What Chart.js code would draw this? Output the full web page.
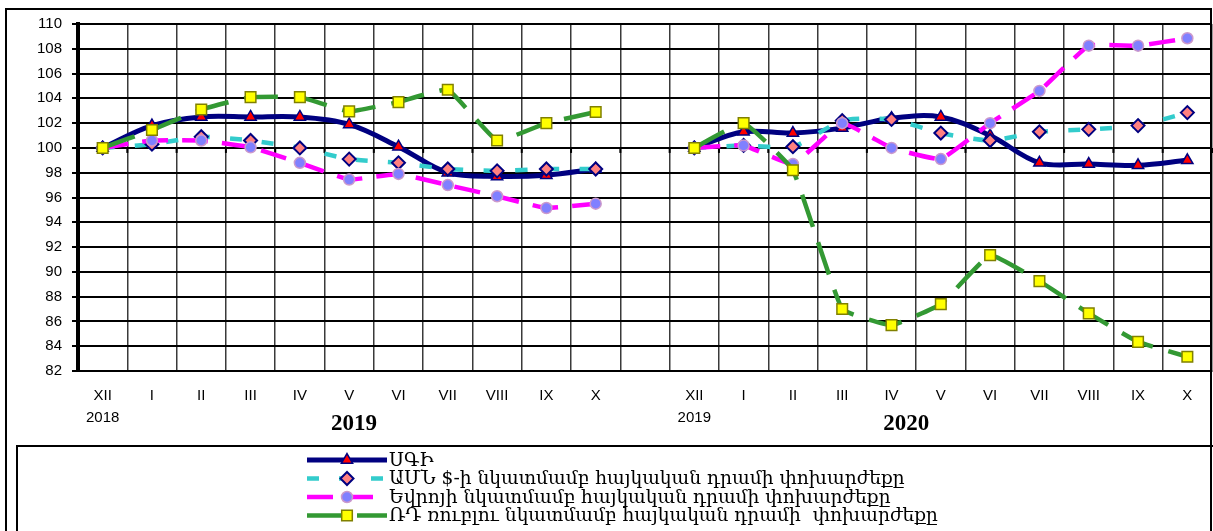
<!DOCTYPE html>
<html><head><meta charset="utf-8">
<script src="https://cdn.jsdelivr.net/npm/chart.js@4"></script>
<style>html,body{margin:0;padding:0;background:#fff;overflow:hidden}#wrap{width:1213px;height:531px;position:relative}</style>
</head><body><div id="wrap"><canvas id="c" width="1213" height="531"></canvas></div>
<script>
// ---- data ----
const months = ['XII','I','II','III','IV','V','VI','VII','VIII','IX','X'];
const baseYears = ['2018','2019'];
const periodYears = ['2019','2020'];
const yTicks = [82,84,86,88,90,92,94,96,98,100,102,104,106,108,110];
const seriesNames = [
  'ՍԳԻ',
  'ԱՄՆ $-ի նկատմամբ հայկական դրամի փոխարժեքը',
  'Եվրոյի նկատմամբ հայկական դրամի փոխարժեքը',
  'ՌԴ ռուբլու նկատմամբ հայկական դրամի  փոխարժեքը'
];
const sgi = [100,101.8,102.5,102.5,102.5,101.9,100.1,98.0,97.7,97.8,98.3, null, 100,101.3,101.2,101.6,102.4,102.5,101.0,98.8,98.7,98.6,99.0];
const usd = [100,100.3,100.9,100.6,100.0,99.1,98.8,98.3,98.15,98.3,98.3, null, 100,100.2,100.1,102.2,102.3,101.2,100.6,101.3,101.5,101.8,102.85];
const eur = [100,100.6,100.6,100.05,98.8,97.45,97.9,97.0,96.1,95.15,95.5, null, 100,100.2,98.7,102.0,100.0,99.1,102.0,104.6,108.25,108.25,108.85];
const rub = [100,101.45,103.1,104.1,104.1,102.95,103.7,104.7,100.6,102.0,102.9, null, 100,102.0,98.2,87.0,85.7,87.4,91.35,89.25,86.65,84.35,83.15];

const categories = [[months[0], baseYears[0]], ...months.slice(1), '', [months[0], baseYears[1]], ...months.slice(1)];

const datasets = [
  {label: seriesNames[0], data: sgi, borderColor:'#000080', borderWidth:5, tension:0.35,
   pointStyle:'triangle', pointRadius:6.5, pointBackgroundColor:'#ff0000', pointBorderColor:'#000080', pointBorderWidth:1.5, order:4},
  {label: seriesNames[1], data: usd, borderColor:'#33cccc', borderWidth:4.5, borderDash:[12,20], tension:0.2,
   pointStyle:'rectRot', pointRadius:6.5, pointBackgroundColor:'#ff8080', pointBorderColor:'#000080', pointBorderWidth:2, order:3},
  {label: seriesNames[2], data: eur, borderColor:'#ff00ff', borderWidth:4.5, borderDash:[26,14], tension:0.1,
   pointStyle:'circle', pointRadius:5.5, pointBackgroundColor:'#8080ff', pointBorderColor:'#cc99cc', pointBorderWidth:1.5, order:2},
  {label: seriesNames[3], data: rub, borderColor:'#339933', borderWidth:4.5, borderDash:[34,16], tension:0.1,
   pointStyle:'rect', pointRadius:7.5, pointBackgroundColor:'#ffff00', pointBorderColor:'#808000', pointBorderWidth:1.5, order:1}
];
datasets.forEach(d => { d.fill = false; d.spanGaps = false; d.borderCapStyle = 'butt'; });

const decor = {
  id: 'decor',
  beforeDraw(chart) {
    const ctx = chart.ctx;
    ctx.save(); ctx.fillStyle = '#fff'; ctx.fillRect(0,0,chart.width,chart.height); ctx.restore();
  },
  beforeDatasetsDraw(chart) {
    const ctx = chart.ctx, x = chart.scales.x, y = chart.scales.y;
    const y100 = y.getPixelForValue(100);
    ctx.save(); ctx.strokeStyle = '#000'; ctx.lineWidth = 2;
    for (let i = 0; i <= categories.length; i++) {
      const px = x.getPixelForValue(i - 0.5);
      ctx.beginPath(); ctx.moveTo(px, y100); ctx.lineTo(px, y100 + 5); ctx.stroke();
    }
    ctx.restore();
  },
  afterDraw(chart) {
    const ctx = chart.ctx, x = chart.scales.x;
    ctx.save();
    ctx.strokeStyle = '#000'; ctx.lineWidth = 2;
    ctx.strokeRect(6, 9, 1205, 540);
    ctx.strokeRect(17, 446, 1210, 100);
    ctx.fillStyle = '#000';
    ctx.font = 'bold 23px "Liberation Serif", serif';
    ctx.textAlign = 'center'; ctx.textBaseline = 'middle';
    ctx.fillText(periodYears[0], x.getPixelForValue(5.1), 424);
    ctx.fillText(periodYears[1], x.getPixelForValue(16.3), 424);
    ctx.font = '17px "DejaVu Serif", "DejaVu Sans", serif';
    const w = ctx.measureText(seriesNames[1]).width;
    const fs = 17 * 516 / w;
    const rows = [460, 478.5, 497, 515.5];
    chart.data.datasets.forEach((ds, i) => {
      const ry = rows[i];
      ctx.save();
      ctx.strokeStyle = ds.borderColor; ctx.lineWidth = ds.borderWidth; ctx.lineCap = 'butt';
      ctx.setLineDash(ds.borderDash || []);
      ctx.beginPath(); ctx.moveTo(307, ry); ctx.lineTo(387, ry); ctx.stroke();
      ctx.setLineDash([]);
      ctx.fillStyle = ds.pointBackgroundColor; ctx.strokeStyle = ds.pointBorderColor; ctx.lineWidth = ds.pointBorderWidth;
      Chart.helpers.drawPoint(ctx, {pointStyle: ds.pointStyle, radius: ds.pointRadius, rotation: 0, borderWidth: ds.pointBorderWidth}, 347, ry);
      ctx.restore();
      ctx.fillStyle = '#000';
      ctx.font = fs.toFixed(2) + 'px "DejaVu Serif", "DejaVu Sans", serif';
      ctx.textAlign = 'left'; ctx.textBaseline = 'middle';
      ctx.fillText(ds.label, 389, ry + 1);
    });
    ctx.restore();
  }
};

new Chart(document.getElementById('c'), {
  type: 'line',
  data: { labels: categories, datasets },
  options: {
    responsive: false, devicePixelRatio: 1, animation: false,
    layout: { padding: { top: 24, left: 0, right: 1, bottom: 0 }, autoPadding: false },
    plugins: { legend: { display: false }, tooltip: { enabled: false }, title: { display: false } },
    scales: {
      x: {
        type: 'category', offset: true,
        grid: { color: '#3a3a3a', lineWidth: 1.5, drawTicks: false, offset: true },
        border: { display: true, color: '#000', width: 2 },
        ticks: { color: '#000', font: { family: '"Liberation Sans", Arial, sans-serif', size: 15, lineHeight: 1.45 }, padding: 14, maxRotation: 0, autoSkip: false },
        afterFit(s) { s.height = 160; s.paddingLeft = 0; s.paddingRight = 0; }
      },
      y: {
        min: 82, max: 110,
        afterBuildTicks(s) { s.ticks = yTicks.map(v => ({ value: v })); },
        grid: { color: '#000', lineWidth: 2, tickLength: 6, drawTicks: true },
        border: { display: true, color: '#000', width: 4 },
        ticks: { color: '#000', font: { family: '"Liberation Sans", Arial, sans-serif', size: 15 }, padding: 10 },
        afterFit(s) { s.width = 78; s.paddingTop = 0; s.paddingBottom = 0; }
      }
    }
  },
  plugins: [decor]
});
</script></body></html>
